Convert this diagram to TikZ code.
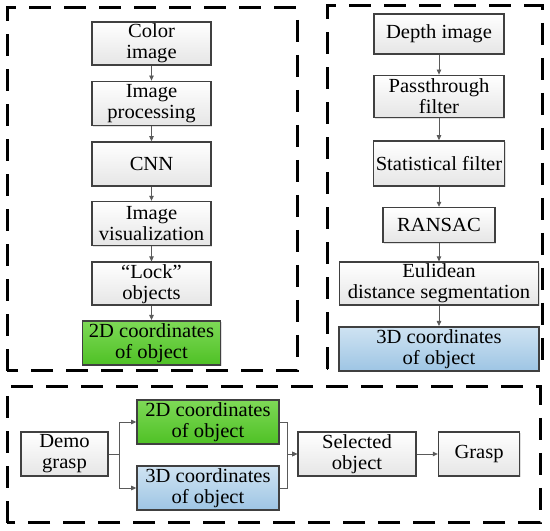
\documentclass[tikz,border=0pt]{standalone}
\usepackage{fontspec}
\setmainfont{Liberation Serif}[FakeStretch=1.03]
\usetikzlibrary{arrows.meta, positioning, shadows}

\definecolor{boxline}{HTML}{404040}
\definecolor{arrowgray}{HTML}{5A5A5A}
\definecolor{greentop}{HTML}{7ED957}
\definecolor{greenbot}{HTML}{4FC125}
\definecolor{bluetop}{HTML}{CFE3F2}
\definecolor{bluebot}{HTML}{9EC5E4}

\begin{document}
\begin{tikzpicture}[
    x=1pt, y=1pt, >={Triangle[length=5pt,width=4.5pt]},
    procbox/.style={draw=boxline, line width=1.6pt, align=center,
      inner sep=1pt, font=\fontsize{20}{21}\selectfont,
      top color=white, bottom color=black!10,
      drop shadow={opacity=0.25, shadow xshift=1.2pt, shadow yshift=-1.2pt}},
    greenbox/.style={procbox, top color=greentop, bottom color=greenbot},
    bluebox/.style={procbox, top color=bluetop, bottom color=bluebot},
    flow/.style={->, draw=arrowgray, line width=0.8pt},
    frame/.style={draw=black, line width=3pt, dash pattern=on 22pt off 13pt}
  ]
  \useasboundingbox (0,0) rectangle (550,531);

  % dashed frames
  \draw[frame] (7,160) rectangle (297,523);
  \draw[frame] (327,162) rectangle (542,525);
  \draw[frame] (7,8) rectangle (540,144);

  % colour image branch
  \node[procbox, minimum width=119pt, minimum height=43pt, anchor=north]
    (color) at (151.5,510) {Color\\image};
  \node[procbox, minimum width=119pt, minimum height=44pt,
        below=15pt of color] (improc) {Image\\processing};
  \node[procbox, minimum width=119pt, minimum height=44pt,
        below=15pt of improc] (cnn) {CNN};
  \node[procbox, minimum width=119pt, minimum height=44pt,
        below=14pt of cnn] (imvis) {Image\\visualization};
  \node[procbox, minimum width=119pt, minimum height=43pt,
        below=15pt of imvis] (lock) {“Lock”\\objects};
  \node[greenbox, minimum width=138pt, minimum height=44pt,
        below=14pt of lock] (coordA) {2D coordinates\\of object};
  \draw[flow] (color) -- (improc);
  \draw[flow] (improc) -- (cnn);
  \draw[flow] (cnn) -- (imvis);
  \draw[flow] (imvis) -- (lock);
  \draw[flow] (lock) -- (coordA);

  % depth image branch
  \node[procbox, minimum width=130pt, minimum height=40pt, anchor=north]
    (depth) at (439,518) {Depth image};
  \node[procbox, minimum width=130pt, minimum height=42pt,
        below=20pt of depth] (pass) {Passthrough\\filter};
  \node[procbox, minimum width=131pt, minimum height=45pt,
        below=22pt of pass] (stat) {Statistical filter};
  \node[procbox, minimum width=112pt, minimum height=35pt,
        below=20pt of stat] (ransac) {RANSAC};
  \node[procbox, minimum width=199pt, minimum height=43pt,
        below=18pt of ransac] (eucl) {Eulidean\\distance segmentation};
  \node[bluebox, minimum width=200pt, minimum height=44pt,
        below=20pt of eucl] (coordB) {3D coordinates\\of object};
  \draw[flow] (depth) -- (pass);
  \draw[flow] (pass) -- (stat);
  \draw[flow] (stat) -- (ransac);
  \draw[flow] (ransac) -- (eucl);
  \draw[flow] (eucl) -- (coordB);

  % grasping row
  \node[procbox, minimum width=87pt, minimum height=44pt]
    (demo) at (64.5,77) {Demo\\grasp};
  \node[greenbox, minimum width=142pt, minimum height=44pt]
    (rowA) at (208,109) {2D coordinates\\of object};
  \node[bluebox, minimum width=142pt, minimum height=44pt]
    (rowB) at (208,43) {3D coordinates\\of object};
  \node[procbox, minimum width=118pt, minimum height=44pt]
    (select) at (357,77) {Selected\\object};
  \node[procbox, minimum width=81pt, minimum height=44pt,
        right=21pt of select] (grasp) {Grasp};
  \draw[flow] (demo.east) -- ++(11,0) |- (rowA.west);
  \draw[flow] (demo.east) -- ++(11,0) |- (rowB.west);
  \draw[flow] (rowA.east) -- ++(8,0) |- (select.west);
  \draw[flow] (rowB.east) -- ++(8,0) |- (select.west);
  \draw[flow] (select) -- (grasp);
\end{tikzpicture}
\end{document}
